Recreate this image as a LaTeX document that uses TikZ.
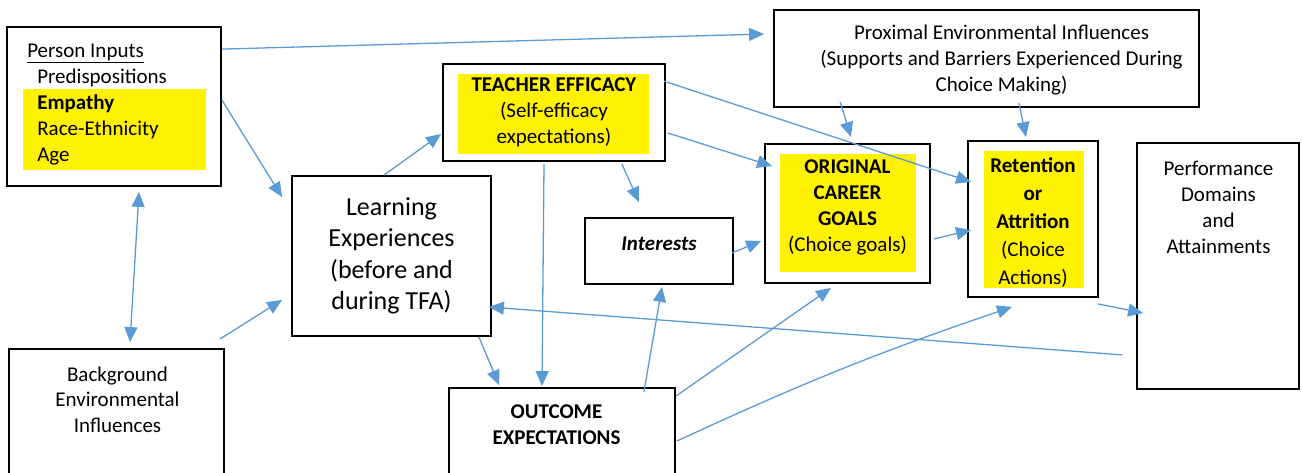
\documentclass[tikz,border=0pt]{standalone}
\usepackage{fontspec}
\setmainfont{Carlito}
\usetikzlibrary{arrows.meta}
\definecolor{arrowblue}{HTML}{5B9BD5}
\pgfdeclarelayer{hlayer}
\pgfsetlayers{hlayer,main}
\tikzset{
    box/.style={draw, line width=1.8pt, inner sep=0pt, align=center, font=\fontsize{21}{26}\selectfont},
    lbl/.style={inner sep=0pt, align=center, font=\fontsize{21}{26}\selectfont},
    conn/.style={draw=arrowblue, line width=1.3pt, -{Triangle[length=15pt,width=13pt]}},
    dconn/.style={conn, {Triangle[length=15pt,width=13pt]}-{Triangle[length=15pt,width=13pt]}},
    hilite/.style={fill=yellow}
}

\begin{document}
\begin{tikzpicture}[x=1pt, y=-1pt]
    \useasboundingbox (0,0) rectangle (1303,472);
    \clip (0,0) rectangle (1303,472);

    \node[box, minimum width=214, minimum height=159] (pi) at (114,106.5) {};
    \node[lbl, anchor=west, align=left] (pitxt) at ([shift={(21,-2)}]pi.west)
        {\underline{Person Inputs}\\\hspace*{10pt}Predispositions\\\hspace*{10pt}\textbf{Empathy}\\\hspace*{10pt}Race-Ethnicity\\\hspace*{10pt}Age};
    \node[box, minimum width=222, minimum height=97] (te) at (554,112.5)
        {\textbf{TEACHER EFFICACY}\\(Self-efficacy\\expectations)};
    \node[box, minimum width=425, minimum height=97] (prox) at (986.5,58.5) {};
    \node[lbl] (proxtxt) at ([shift={(15,2)}]prox.center)
        {Proximal Environmental Influences\\(Supports and Barriers Experienced During\\Choice Making)};
    \node[box, font=\fontsize{26}{31.5}\selectfont, minimum width=199, minimum height=160] (le) at (391.5,256)
        {Learning\\Experiences\\(before and\\during TFA)};
    \node[box, minimum width=148, minimum height=66] (int) at (659,251) {};
    \node[lbl] (inttxt) at ([shift={(0,-7)}]int.center) {\textbf{\textit{Interests}}};
    \node[box, minimum width=165, minimum height=139] (goal) at (847.5,213.5) {};
    \node[lbl] (goaltxt) at ([shift={(0,-6.5)}]goal.center)
        {\textbf{ORIGINAL}\\\textbf{CAREER}\\\textbf{GOALS}\\(Choice goals)};
    \node[box, minimum width=130, minimum height=156] (ret) at (1033,219) {};
    \node[lbl, font=\fontsize{21}{28}\selectfont] (rettxt) at ([shift={(0,3.5)}]ret.center)
        {\textbf{Retention}\\\textbf{or}\\\textbf{Attrition}\\(Choice\\Actions)};
    \node[box, minimum width=162, minimum height=246] (perf) at (1218,266) {};
    \node[lbl] (perftxt) at ([shift={(0.5,-59)}]perf.center)
        {Performance\\Domains\\and\\Attainments};
    \node[box, minimum width=215, minimum height=151] (bg) at (116.5,424.5) {};
    \node[lbl, font=\fontsize{21}{25.5}\selectfont] (bgtxt) at ([shift={(1,-25)}]bg.center)
        {Background\\Environmental\\Influences};
    \node[box, minimum width=226, minimum height=122] (out) at (562,449) {};
    \node[lbl] (outtxt) at ([shift={(-5.5,-24)}]out.center)
        {\textbf{OUTCOME}\\\textbf{EXPECTATIONS}};

    \begin{pgfonlayer}{hlayer}
        \fill[hilite] ([shift={(17,63)}]pi.north west) rectangle ([shift={(-16,-17)}]pi.south east);
        \fill[hilite] ([shift={(16,11)}]te.north west) rectangle ([shift={(-17,-8)}]te.south east);
        \fill[hilite] ([shift={(16,11)}]goal.north west) rectangle ([shift={(-15,-12)}]goal.south east);
        \fill[hilite] ([shift={(17,11)}]ret.north west) rectangle ([shift={(-15,-10)}]ret.south east);
    \end{pgfonlayer}

    \draw[conn] ([shift={(0,23)}]pi.north east) -- ([shift={(-9,-24.5)}]prox.west);
    \draw[conn] ([shift={(0,-6.5)}]pi.east) -- ([shift={(-9,22)}]le.north west);
    \draw[dconn] ([shift={(25,5)}]pi.south) -- ([shift={(13.5,-6)}]bg.north);
    \draw[conn] ([shift={(-5,-9)}]bg.north east) -- ([shift={(-9,-37)}]le.south west);
    \draw[conn] ([shift={(-7.5,0)}]le.north) -- ([shift={(-1,21.5)}]te.west);
    \draw[conn] ([shift={(-13,0)}]le.south east) -- ([shift={(51,-2)}]out.north west);
    \draw[conn] ([shift={(-10,2)}]te.south) -- ([shift={(-20,-1)}]out.north);
    \draw[conn] ([shift={(-44,2)}]te.south east) -- ([shift={(-20,-15)}]int.north);
    \draw[conn] ([shift={(2,20.5)}]te.east) -- ([shift={(8,23)}]goal.north west);
    \draw[conn] ([shift={(-2,18)}]te.north east) -- ([shift={(4,-37)}]ret.west);
    \draw[conn] ([shift={(67,-6)}]prox.south west) -- ([shift={(3.5,-6)}]goal.north);
    \draw[conn] ([shift={(32.5,-5)}]prox.south) -- ([shift={(-7,-3)}]ret.north);
    \draw[conn] ([shift={(-2,2)}]int.east) -- ([shift={(-3,27.5)}]goal.west);
    \draw[conn] ([shift={(3,25.5)}]goal.east) -- ([shift={(4,11)}]ret.west);
    \draw[conn] ([shift={(-1,6)}]ret.south east) -- ([shift={(7,47)}]perf.west);
    \draw[conn] ([shift={(-14,-35)}]perf.south west) -- ([shift={(-3,51)}]le.east);
    \draw[conn] ([shift={(-32,5)}]out.north east) -- ([shift={(3,2)}]int.south);
    \draw[conn] ([shift={(0,9)}]out.north east) -- ([shift={(-16.5,4)}]goal.south);
    \draw[conn] ([shift={(1,-8)}]out.east) to[bend left=3] ([shift={(-21,9)}]ret.south);
\end{tikzpicture}
\end{document}
